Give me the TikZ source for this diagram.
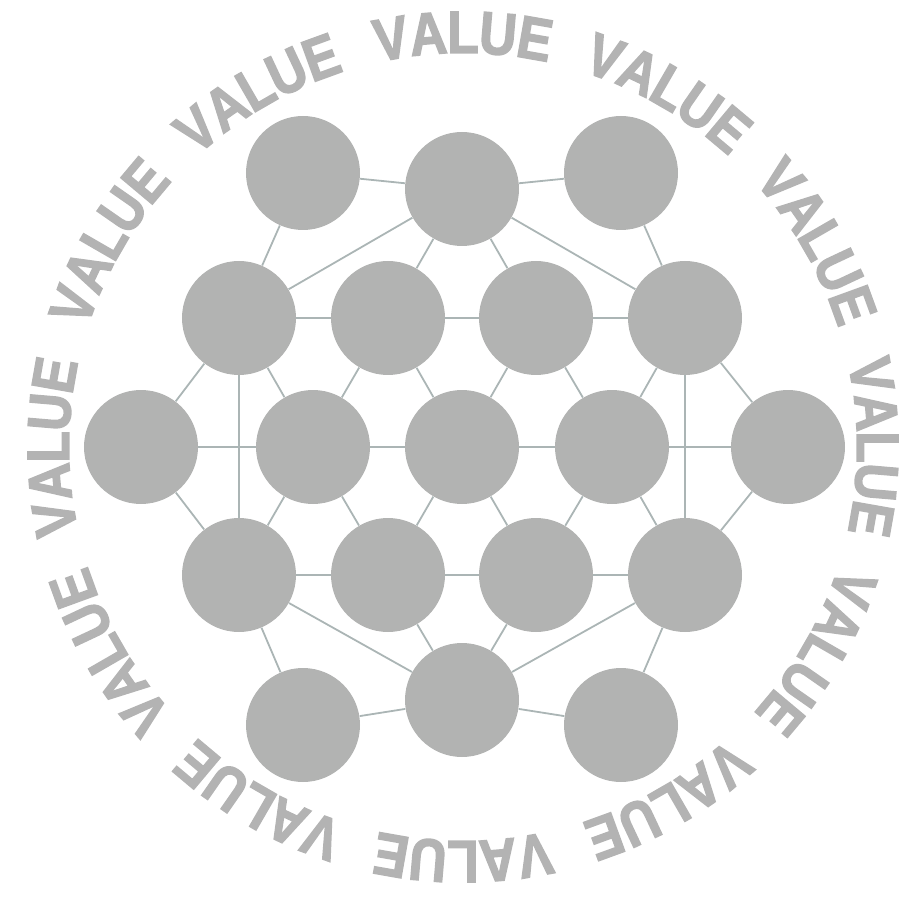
\documentclass[tikz,border=0pt]{standalone}
\usepackage{fontspec}
\newfontfamily\valfont[UprightFont={Liberation Sans Bold}, FakeStretch=0.86, FakeBold=2.2]{Liberation Sans Bold}
\definecolor{ballgray}{HTML}{B2B3B2}
\definecolor{linegray}{HTML}{ABB5B5}
\definecolor{textgray}{HTML}{B3B3B3}
\tikzset{
  ball/.style={circle, fill=ballgray, minimum size=57pt, inner sep=0pt},
  link/.style={draw=linegray, line width=0.9pt},
  letter/.style={anchor=base, inner sep=0pt, text=textgray,
    font=\valfont\fontsize{30}{30}\selectfont},
}
\begin{document}
\begin{tikzpicture}[x=0.5pt, y=0.5pt]
\useasboundingbox (-463,-452) rectangle (440,447);
% nodes
\node[ball] (T1) at (-160,274) {};
\node[ball] (T2) at (-1,258) {};
\node[ball] (T3) at (158,274) {};
\node[ball] (A1) at (-224,129) {};
\node[ball] (A2) at (-75,129) {};
\node[ball] (A3) at (73,129) {};
\node[ball] (A4) at (222,129) {};
\node[ball] (M1) at (-322,0) {};
\node[ball] (M2) at (-150,0) {};
\node[ball] (M3) at (-1,0) {};
\node[ball] (M4) at (149,0) {};
\node[ball] (M5) at (325,0) {};
\node[ball] (B1) at (-224,-128) {};
\node[ball] (B2) at (-75,-128) {};
\node[ball] (B3) at (73,-128) {};
\node[ball] (B4) at (222,-128) {};
\node[ball] (D1) at (-160,-278) {};
\node[ball] (D2) at (-1,-253) {};
\node[ball] (D3) at (158,-278) {};
% links
\foreach \a/\b in {T1/T2,T2/T3,T1/A1,T2/A1,T2/A2,T2/A3,T2/A4,T3/A4,
  A1/A2,A2/A3,A3/A4,
  A1/M1,A1/M2,A2/M2,A2/M3,A3/M3,A3/M4,A4/M4,A4/M5,
  A1/B1,A4/B4,
  M1/M2,M2/M3,M3/M4,M4/M5,
  M1/B1,M2/B1,M2/B2,M3/B2,M3/B3,M4/B3,M4/B4,M5/B4,
  B1/B2,B2/B3,B3/B4,
  B1/D1,B1/D2,B2/D2,B3/D2,B4/D2,B4/D3,
  D1/D2,D2/D3}
  \draw[link] (\a) -- (\b);
% ring of words
\foreach \k in {0,...,11}{
  \foreach \ch/\d [count=\i] in {V/10.0,A/4.85,L/0,U/-4.85,E/-10.0}{
    \pgfmathsetmacro{\ang}{90-30*\k+\d}
    \pgfmathsetmacro{\rot}{\ang-90}
    \node[letter, rotate=\rot] (w\k l\i) at (\ang:394) {\ch};
  }
}
\end{tikzpicture}
\end{document}
